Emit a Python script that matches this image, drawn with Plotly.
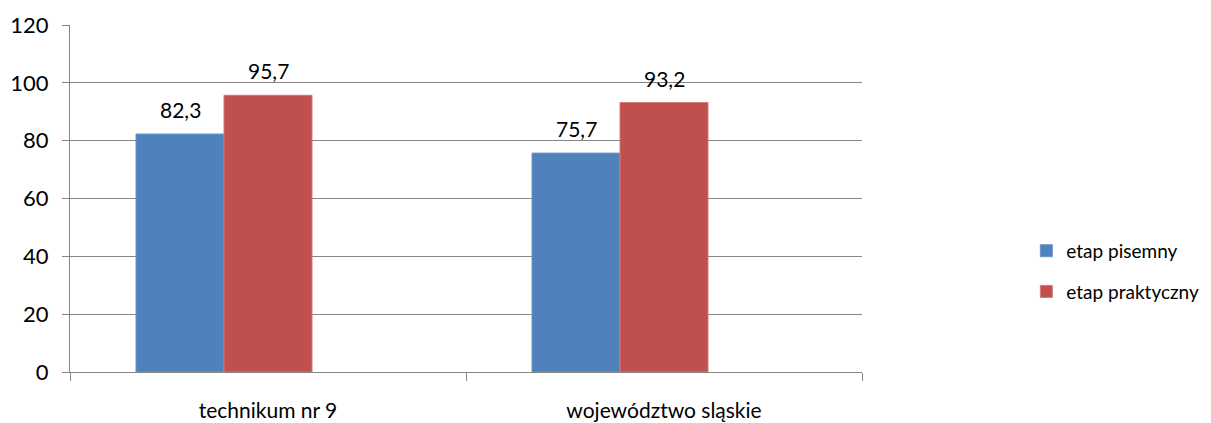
import plotly.graph_objects as go

categories = ["technikum nr 9", "województwo sląskie"]
series_names = ["etap pisemny", "etap praktyczny"]
pisemny = [82.3, 75.7]
praktyczny = [95.7, 93.2]
# the source chart reserves an empty third bar slot in each group
empty_series = [None, None]
colors = ["#4F81BD", "#C0504D"]
edge_colors = ["#6B95C9", "#D47A78"]
y_ticks = [0, 20, 40, 60, 80, 100, 120]

FONT = "Lato, Open Sans, sans-serif"

# page body has an 8px margin; figure sized to fit the 1211x423 window
W, H = 1203, 415
ML, MR, MT, MB = 62, 349, 17, 51
BARGAP = 1 / 3
n_slots = 3
plot_w = W - ML - MR
bar_w = plot_w / len(categories) * (1 - BARGAP) / n_slots

fig = go.Figure()
all_vals = [pisemny, praktyczny]
for i, (name, vals) in enumerate(zip(series_names, all_vals)):
    fig.add_trace(go.Bar(
        x=categories, y=vals, name=name,
        marker=dict(color=colors[i], line=dict(color=edge_colors[i], width=1)),
        legendgroup=name,
    ))
    shift = (i - (n_slots - 1) / 2) * bar_w
    for c, v in zip(categories, vals):
        fig.add_annotation(
            x=c, y=v, xref="x", yref="y", text=f"{v:.1f}".replace(".", ","),
            showarrow=False, xshift=shift, yshift=10, yanchor="bottom",
            font=dict(family=FONT, size=21, color="#000000"),
        )
fig.add_trace(go.Bar(x=categories, y=empty_series, showlegend=False,
                     hoverinfo="skip", marker=dict(color="rgba(0,0,0,0)")))

fig.update_layout(
    width=W, height=H,
    margin=dict(l=ML, r=MR, t=MT, b=MB, autoexpand=False),
    paper_bgcolor="white", plot_bgcolor="white",
    barmode="group", bargap=BARGAP, bargroupgap=0,
    font=dict(family=FONT, color="#000000"),
    legend=dict(
        x=1.2075, xanchor="left", y=0.29, yanchor="middle",
        font=dict(family=FONT, size=19, color="#000000"),
        traceorder="grouped", tracegroupgap=13,
        bgcolor="rgba(0,0,0,0)",
    ),
    showlegend=True,
)
fig.update_xaxes(
    type="category", showline=True, linecolor="#868686", linewidth=1,
    ticks="outside", tickson="boundaries", ticklen=8, tickcolor="#868686",
    tickfont=dict(family=FONT, size=21, color="#000000"),
    ticklabelstandoff=20, automargin=False,
    showgrid=False, zeroline=False,
)
fig.update_yaxes(
    range=[0, 120], tickvals=y_ticks, showline=True, linecolor="#868686", linewidth=1,
    ticks="outside", ticklen=7, tickcolor="#868686",
    tickfont=dict(family=FONT, size=22, color="#000000"),
    ticklabelstandoff=9, automargin=False,
    showgrid=True, gridcolor="#868686", gridwidth=1, zeroline=False,
)

fig.write_html("out.html")
